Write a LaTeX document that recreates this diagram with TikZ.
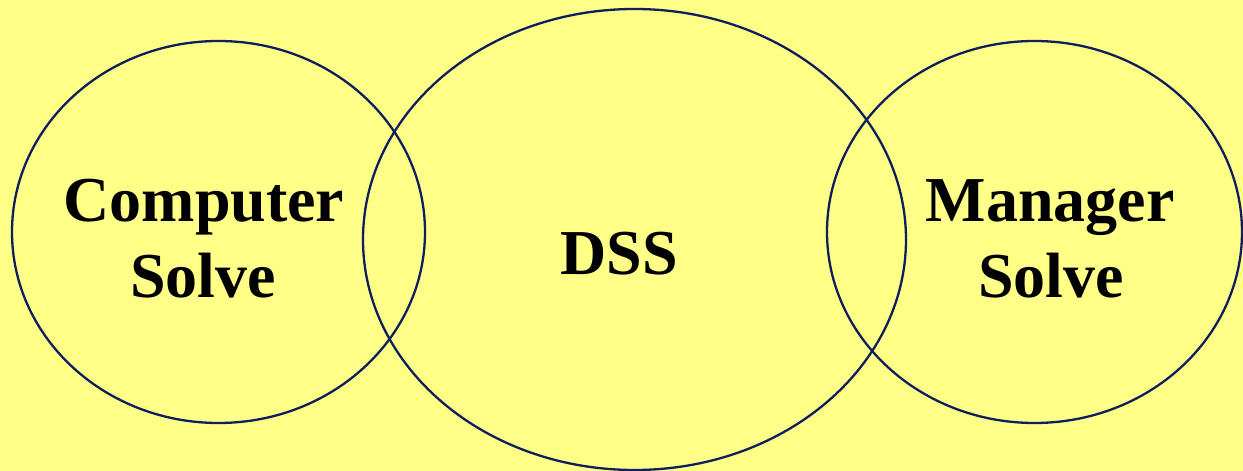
\documentclass[tikz,border=0pt]{standalone}
\usepackage{fontspec}
\setmainfont{Liberation Serif}
\usetikzlibrary{shapes.geometric}
\definecolor{bgyellow}{RGB}{255,255,136}
\definecolor{rimnavy}{RGB}{16,30,92}
\tikzset{
  ring/.style={ellipse, draw=rimnavy, line width=2.3pt, inner sep=0pt, outer sep=0pt},
  lbl/.style={anchor=base, inner sep=0pt, font=\bfseries\fontsize{64}{76}\selectfont, text=black}
}
\begin{document}
\begin{tikzpicture}[x=1pt,y=1pt]
\fill[bgyellow] (0,0) rectangle (1243,471);
\useasboundingbox (0,0) rectangle (1243,471);
\node[ring, minimum width=413pt, minimum height=382pt] (left) at (218.5,239) {};
\node[ring, minimum width=543pt, minimum height=461pt] (mid) at (634.5,231.5) {};
\node[ring, minimum width=415pt, minimum height=382pt] (right) at (1034.5,239) {};
\node[lbl] (comp) at (204,249) {Computer};
\node[lbl] (csolve) at (203,173) {Solve};
\node[lbl] (dss) at (619,196) {DSS};
\node[lbl] (mgr) at (1050,249) {Manager};
\node[lbl] (msolve) at (1051,173) {Solve};
\end{tikzpicture}
\end{document}
